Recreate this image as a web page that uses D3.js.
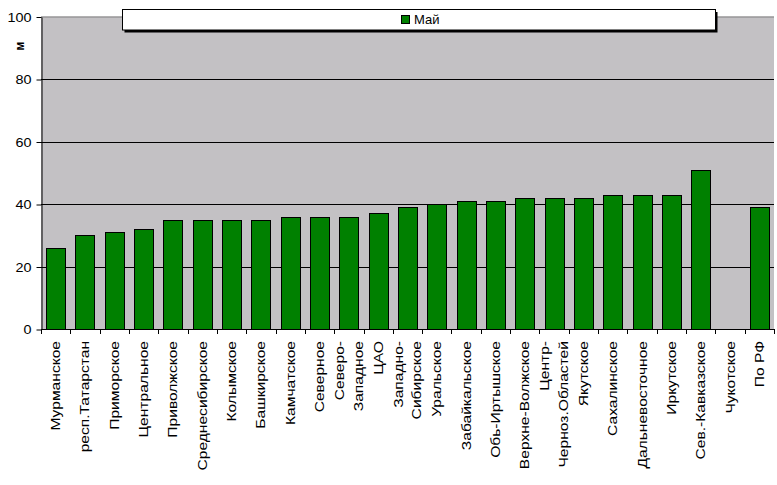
<!DOCTYPE html>
<html>
<head>
<meta charset="utf-8">
<script src="https://cdn.jsdelivr.net/npm/d3@7"></script>
<style>
  body { margin: 0; background: #fff; }
  svg { display: block; font-family: "Liberation Sans", Arial, sans-serif; }
</style>
</head>
<body>
<div id="chart"></div>
<script>
// data
const regions = ["Мурманское", "респ.Татарстан", "Приморское", "Центральное", "Приволжское",
  "Среднесибирское", "Колымское", "Башкирское", "Камчатское", "Северное", "Северо-\nЗападное",
  "ЦАО", "Западно-\nСибирское", "Уральское", "Забайкальское", "Обь-Иртышское", "Верхне-Волжское",
  "Центр-\nЧерноз.Областей", "Якутское", "Сахалинское", "Дальневосточное", "Иркутское",
  "Сев.-Кавказское", "Чукотское", "По РФ"];
const may = [26, 30, 31, 32, 35, 35, 35, 35, 36, 36, 36, 37, 39, 40, 41, 41, 42, 42, 42, 43, 43, 43, 51, null, 39];
const yTicks = [0, 20, 40, 60, 80, 100];
const seriesName = "Май";
const yLabel = "м";

const W = 777, H = 485;
const plot = { left: 41, right: 774, top: 16.5, bottom: 329 };

const svg = d3.select("#chart").append("svg")
  .attr("width", W)
  .attr("height", H);

const x = d3.scaleBand()
  .domain(d3.range(regions.length))
  .range([plot.left, plot.right])
  .paddingInner(0.35)
  .paddingOuter(0.175);

const y = d3.scaleLinear().domain([0, 100]).range([plot.bottom, plot.top]);

// plot area
svg.append("rect")
  .attr("x", plot.left)
  .attr("y", plot.top)
  .attr("width", plot.right - plot.left)
  .attr("height", plot.bottom - plot.top)
  .attr("fill", "#c3c1c4");

svg.append("line")
  .attr("x1", plot.left).attr("x2", plot.right)
  .attr("y1", y(100) + 0.5).attr("y2", y(100) + 0.5)
  .attr("stroke", "#808080");

// gridlines
svg.selectAll("line.grid")
  .data(yTicks.filter(d => d > 0 && d < 100))
  .enter().append("line")
  .attr("class", "grid")
  .attr("x1", plot.left).attr("x2", plot.right)
  .attr("y1", d => Math.round(y(d)) + 0.5)
  .attr("y2", d => Math.round(y(d)) + 0.5)
  .attr("stroke", "#000");

// bars
svg.selectAll("rect.bar")
  .data(may.map((v, i) => ({ v, i })).filter(d => d.v != null))
  .enter().append("rect")
  .attr("class", "bar")
  .attr("x", d => Math.round(x(d.i)) + 0.5)
  .attr("y", d => Math.round(y(d.v)) + 0.5)
  .attr("width", Math.round(x.bandwidth()))
  .attr("height", d => Math.round(y(0)) - Math.round(y(d.v)))
  .attr("fill", "#008000")
  .attr("stroke", "#000");

// y axis
const yAxis = d3.axisLeft(y).tickValues(yTicks).tickSize(5).tickSizeOuter(0);
const gy = svg.append("g")
  .attr("transform", `translate(${plot.left + 0.5},0.5)`)
  .call(yAxis);
gy.select(".domain").attr("stroke", "#000");
gy.selectAll(".tick line").attr("stroke", "#000");
gy.selectAll(".tick text")
  .attr("x", null)
  .attr("dy", "0.36em")
  .attr("transform", "translate(-10,0) scale(1.2,1)")
  .style("font-size", "12px")
  .attr("fill", "#000")
  .style("font-family", "Liberation Sans, Arial, sans-serif");

// x axis line + ticks between categories
svg.append("line")
  .attr("x1", plot.left).attr("x2", plot.right)
  .attr("y1", plot.bottom + 0.5).attr("y2", plot.bottom + 0.5)
  .attr("stroke", "#000");

svg.selectAll("line.xtick")
  .data(d3.range(regions.length + 1))
  .enter().append("line")
  .attr("class", "xtick")
  .attr("x1", i => Math.round(plot.left + i * x.step()) + 0.5)
  .attr("x2", i => Math.round(plot.left + i * x.step()) + 0.5)
  .attr("y1", plot.bottom)
  .attr("y2", plot.bottom + 5)
  .attr("stroke", "#000");

// rotated category labels
const lineGap = 19;
const labels = svg.selectAll("text.xlab")
  .data(regions)
  .enter().append("text")
  .attr("class", "xlab")
  .attr("transform", (d, i) => `translate(${x(i) + x.bandwidth() / 2},341) rotate(-90) scale(1.2,1)`)
  .attr("text-anchor", "end")
  .style("font-size", "13px")
  .attr("fill", "#000");

labels.each(function(d) {
  const lines = d.split("\n");
  const t = d3.select(this);
  lines.forEach((ln, k) => {
    t.append("tspan")
      .attr("x", 0)
      .attr("y", 4.5 + (k - (lines.length - 1) / 2) * lineGap)
      .text(ln);
  });
});

// y axis title
svg.append("text")
  .attr("transform", "translate(24,46) rotate(-90)")
  .attr("text-anchor", "middle")
  .style("font-size", "12px")
  .style("font-weight", "bold")
  .text(yLabel);

// legend with shadow
const leg = { x: 122.5, y: 9.5, w: 593, h: 20.5 };
svg.append("rect")
  .attr("x", leg.x + 2).attr("y", leg.y + 2.5)
  .attr("width", leg.w).attr("height", leg.h)
  .attr("fill", "#000");
svg.append("rect")
  .attr("x", leg.x).attr("y", leg.y)
  .attr("width", leg.w).attr("height", leg.h)
  .attr("fill", "#fff")
  .attr("stroke", "#000");
svg.append("rect")
  .attr("x", 401.5).attr("y", 15.5)
  .attr("width", 8).attr("height", 8)
  .attr("fill", "#008000")
  .attr("stroke", "#000");
svg.append("text")
  .attr("x", 414)
  .attr("y", 24)
  .style("font-size", "13px")
  .text(seriesName);
</script>
</body>
</html>
